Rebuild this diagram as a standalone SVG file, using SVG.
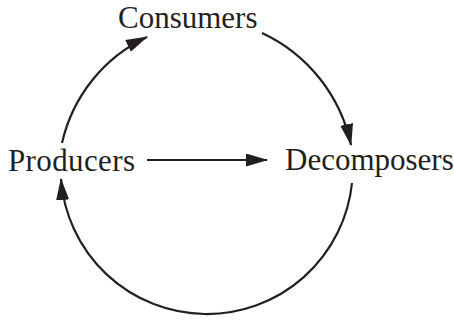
<svg xmlns="http://www.w3.org/2000/svg" width="454" height="320" viewBox="0 0 454 320">
<style>
.lbl{font-family:"Liberation Serif","Times New Roman",serif;font-size:31px;fill:#231f20}
.c{fill:none;stroke:#231f20;stroke-width:2.2}
</style>
<defs>
<marker id="ah" markerUnits="userSpaceOnUse" markerWidth="24" markerHeight="14" refX="21" refY="6.5" orient="auto">
<path d="M0,0 L22,6.5 L0,13 Z" fill="#231f20"/>
</marker>
</defs>
<rect width="454" height="320" fill="#fff"/>
<g id="connectors">
<path class="c" d="M62,143 A155,155 0 0 1 147,37" marker-end="url(#ah)"/>
<path class="c" d="M262,33 A160,160 0 0 1 351,145" marker-end="url(#ah)"/>
<path class="c" d="M352,183 A146.1,146.1 0 0 1 61,179" marker-end="url(#ah)"/>
<path class="c" d="M147,160 L267,160" marker-end="url(#ah)"/>
</g>
<g id="consumers"><text class="lbl" x="118" y="28">Consumers</text></g>
<g id="producers"><text class="lbl" x="8" y="171" textLength="127">Producers</text></g>
<g id="decomposers"><text class="lbl" x="285" y="170">Decomposers</text></g>
</svg>
